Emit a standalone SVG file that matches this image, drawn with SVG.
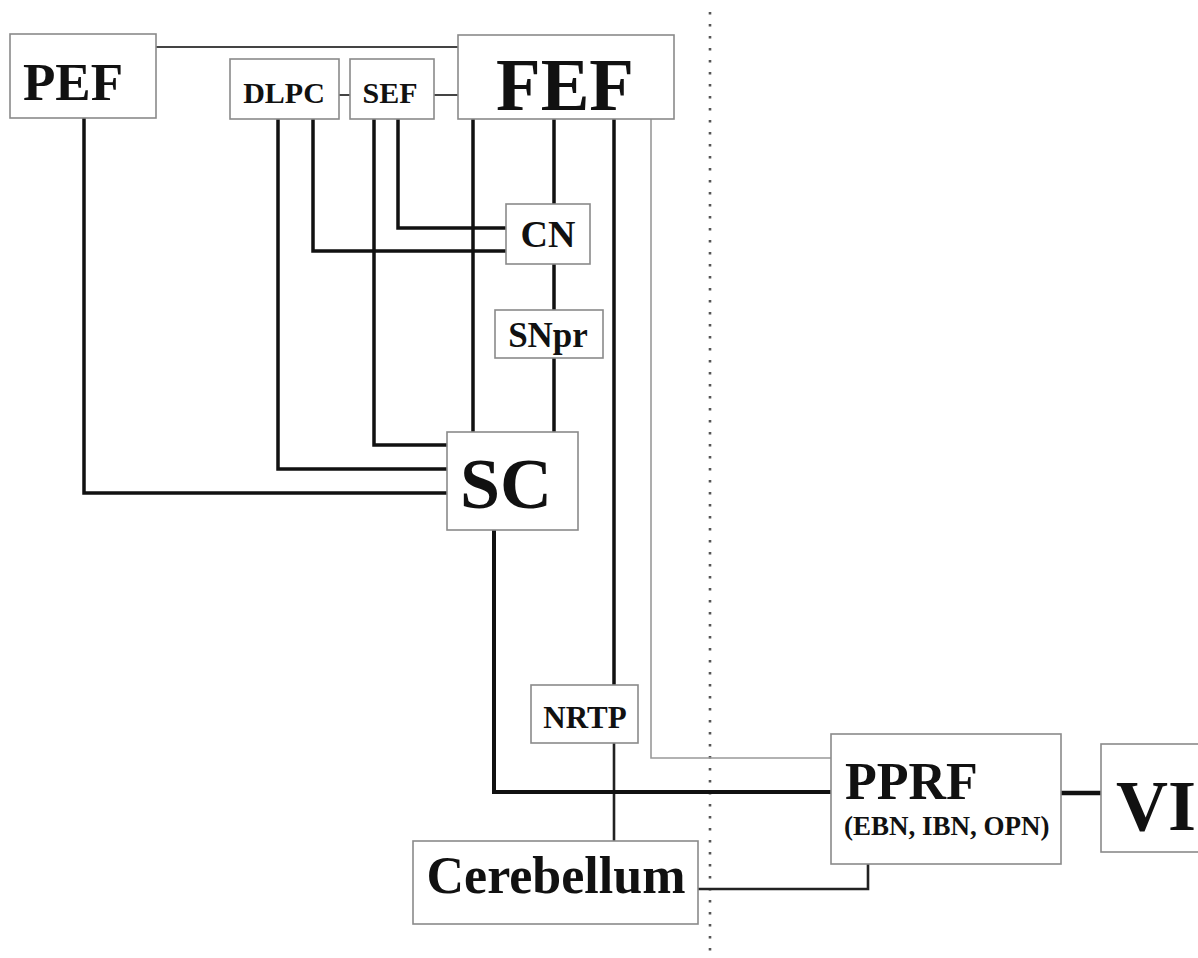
<svg xmlns="http://www.w3.org/2000/svg" width="1198" height="958" viewBox="0 0 1198 958">
<style>
.box{fill:#fff;stroke:#8a8a8a;stroke-width:1.6}
.t{font-family:"Liberation Serif","Times New Roman",serif;font-weight:bold;fill:#111}
.c{text-anchor:middle}
.thick{fill:none;stroke:#111;stroke-width:3.5}
.mid{fill:none;stroke:#222;stroke-width:2.6}
.thin{fill:none;stroke:#444;stroke-width:2}
.gray{fill:none;stroke:#999;stroke-width:1.6}
</style>
<rect width="1198" height="958" fill="#fff"/>
<line x1="710" y1="12" x2="710" y2="958" stroke="#555" stroke-width="2.6" stroke-dasharray="2.5 9.5"/>
<g id="connectors">
<polyline class="thin" points="156,47 458,47"/>
<polyline class="thin" points="339,95 350,95"/>
<polyline class="thin" points="434,95 458,95"/>
<polyline class="thick" points="84,118 84,493 447,493"/>
<polyline class="thick" points="278,119 278,469 447,469"/>
<polyline class="thick" points="313,119 313,251 506,251"/>
<polyline class="thick" points="374,119 374,445 447,445"/>
<polyline class="thick" points="398,119 398,228 506,228"/>
<polyline class="thick" points="473,119 473,432"/>
<polyline class="thick" points="554,119 554,204"/>
<polyline class="thick" points="554,264 554,310"/>
<polyline class="thick" points="554,358 554,432"/>
<polyline class="thick" points="614,119 614,685"/>
<polyline class="mid" points="614,743 614,841"/>
<polyline class="gray" points="651,119 651,758 831,758"/>
<polyline class="thick" points="494,530 494,792 831,792" style="stroke-width:4"/>
<polyline class="mid" points="698,889 868,889 868,864"/>
<polyline class="thick" points="1061,793 1101,793" style="stroke-width:4.5"/>
</g>
<g id="PEF"><rect class="box" x="10" y="34" width="146" height="84"/><text class="t c" x="73" y="100" font-size="53">PEF</text></g>
<g id="DLPC"><rect class="box" x="230" y="59" width="109" height="60"/><text class="t c" x="284" y="103" font-size="30">DLPC</text></g>
<g id="SEF"><rect class="box" x="350" y="59" width="84" height="60"/><text class="t c" x="390" y="103" font-size="30">SEF</text></g>
<g id="FEF"><rect class="box" x="458" y="35" width="216" height="84"/><text class="t c" x="565" y="110" font-size="73">FEF</text></g>
<g id="CN"><rect class="box" x="506" y="204" width="84" height="60"/><text class="t c" x="548" y="247" font-size="38">CN</text></g>
<g id="SNpr"><rect class="box" x="495" y="310" width="108" height="48"/><text class="t c" x="548" y="347" font-size="35">SNpr</text></g>
<g id="SC"><rect class="box" x="447" y="432" width="131" height="98"/><text class="t c" x="506" y="508" font-size="72">SC</text></g>
<g id="NRTP"><rect class="box" x="531" y="685" width="107" height="58"/><text class="t c" x="585" y="728" font-size="31">NRTP</text></g>
<g id="Cerebellum"><rect class="box" x="413" y="841" width="285" height="83"/><text class="t c" x="556" y="893" font-size="52">Cerebellum</text></g>
<g id="PPRF"><rect class="box" x="831" y="734" width="230" height="130"/><text class="t" x="845" y="799" font-size="52">PPRF</text><text class="t" x="844" y="835" font-size="27">(EBN, IBN, OPN)</text></g>
<g id="VI"><rect class="box" x="1101" y="744" width="110" height="108"/><text class="t" x="1116" y="830" font-size="72">VI</text></g>
</svg>
